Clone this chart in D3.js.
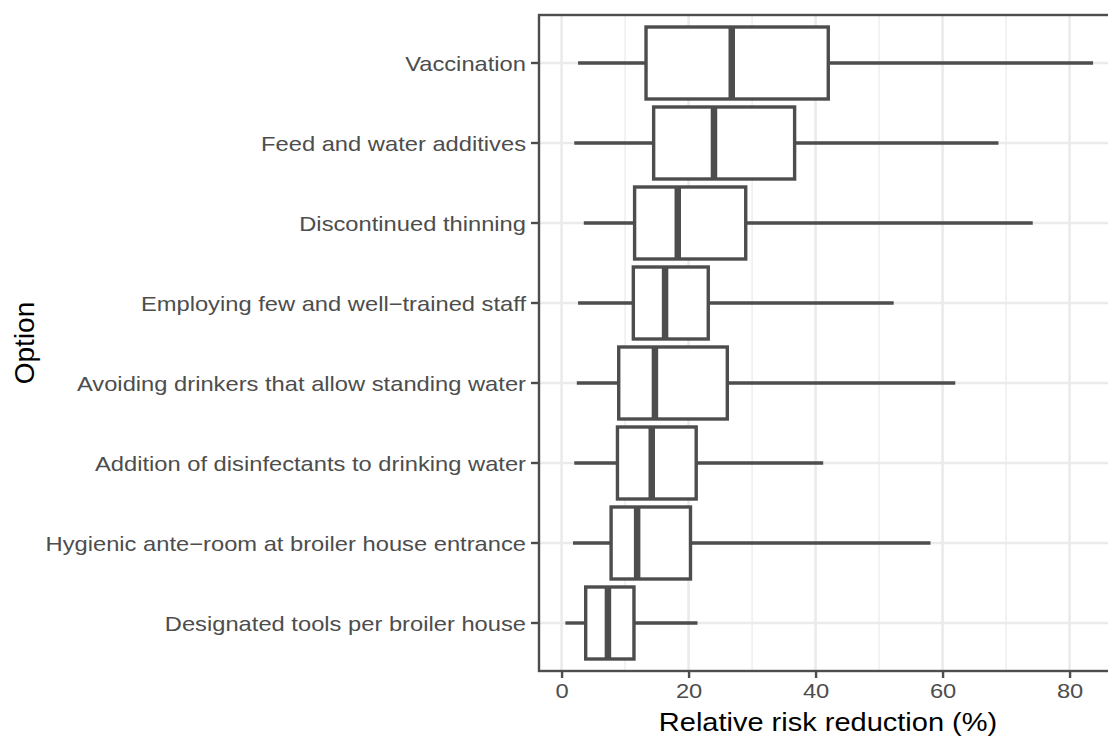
<!DOCTYPE html>
<html>
<head>
<meta charset="utf-8">
<script src="https://cdn.jsdelivr.net/npm/d3@7"></script>
<style>
  body { margin: 0; background: #fff; }
  text { font-family: "Liberation Sans", Arial, sans-serif; }
</style>
</head>
<body>
<svg id="chart" width="1108" height="738"></svg>
<script>
// options, top to bottom
const options = [
    'Vaccination',
    'Feed and water additives',
    'Discontinued thinning',
    'Employing few and well\u2212trained staff',
    'Avoiding drinkers that allow standing water',
    'Addition of disinfectants to drinking water',
    'Hygienic ante\u2212room at broiler house entrance',
    'Designated tools per broiler house'
];
// box stats (%), same order as options
const whiskerLow = [2.6, 2.0, 3.5, 2.6, 2.4, 2.0, 1.8, 0.6];
const q1 = [13.3, 14.5, 11.5, 11.3, 9.0, 8.8, 7.8, 3.8];
const median = [26.8, 24.0, 18.3, 16.3, 14.7, 14.2, 11.9, 7.3];
const q3 = [42.0, 36.7, 29.0, 23.1, 26.1, 21.2, 20.3, 11.4];
const whiskerHigh = [83.7, 68.8, 74.2, 52.3, 62.0, 41.2, 58.1, 21.4];
const xMajor = [0, 20, 40, 60, 80];
const xMinor = [10, 30, 50, 70];

const margins = { top: 15, left: 539, bottom: 67 };
const height = 738;
const pxPerUnit = 6.35;
const stretch = 1.13;   // text in the picture is a little wide
const ink = '#4d4d4d';
const gridColor = '#ebebeb';

const rows = options.map((name, i) => ({
    name, lo: whiskerLow[i], q1: q1[i], med: median[i], q3: q3[i], hi: whiskerHigh[i]
}));

const svg = d3.select('#chart');

// x scale with ggplot-ish 5% expansion
const dMin = d3.min(whiskerLow), dMax = d3.max(whiskerHigh);
const pad = (dMax - dMin) * 0.05;
const xDomain = [dMin - pad, dMax + pad];
const x = d3.scaleLinear()
    .domain(xDomain)
    .range([margins.left, margins.left + (xDomain[1] - xDomain[0]) * pxPerUnit]);

const panelBottom = height - margins.bottom;
// ggplot discrete: expand 0.6 per side
const y = d3.scalePoint()
    .domain(options)
    .range([margins.top, panelBottom])
    .padding(0.6);
const step = y.step();
const boxH = step * 0.9;

const panelRight = x.range()[1];

// grid
const grid = svg.append('g');
grid.selectAll('.minor').data(xMinor).enter().append('line')
    .attr('x1', d => x(d)).attr('x2', d => x(d))
    .attr('y1', margins.top).attr('y2', panelBottom)
    .attr('stroke', gridColor).attr('stroke-width', 1.2);
grid.selectAll('.major').data(xMajor).enter().append('line')
    .attr('x1', d => x(d)).attr('x2', d => x(d))
    .attr('y1', margins.top).attr('y2', panelBottom)
    .attr('stroke', gridColor).attr('stroke-width', 2.6);
grid.selectAll('.hmajor').data(options).enter().append('line')
    .attr('x1', margins.left).attr('x2', panelRight)
    .attr('y1', d => y(d)).attr('y2', d => y(d))
    .attr('stroke', gridColor).attr('stroke-width', 2.6);

// boxes
const box = svg.append('g').selectAll('g').data(rows).enter().append('g');
box.append('line')
    .attr('x1', d => x(d.lo)).attr('x2', d => x(d.q1))
    .attr('y1', d => y(d.name)).attr('y2', d => y(d.name))
    .attr('stroke', ink).attr('stroke-width', 3.4);
box.append('line')
    .attr('x1', d => x(d.q3)).attr('x2', d => x(d.hi))
    .attr('y1', d => y(d.name)).attr('y2', d => y(d.name))
    .attr('stroke', ink).attr('stroke-width', 3.4);
box.append('rect')
    .attr('x', d => x(d.q1)).attr('width', d => x(d.q3) - x(d.q1))
    .attr('y', d => y(d.name) - boxH / 2).attr('height', boxH)
    .attr('fill', '#fff').attr('stroke', ink).attr('stroke-width', 3.4);
box.append('line')
    .attr('x1', d => x(d.med)).attr('x2', d => x(d.med))
    .attr('y1', d => y(d.name) - boxH / 2).attr('y2', d => y(d.name) + boxH / 2)
    .attr('stroke', ink).attr('stroke-width', 6.5);

// panel border
svg.append('rect')
    .attr('x', margins.left).attr('y', margins.top)
    .attr('width', panelRight - margins.left).attr('height', panelBottom - margins.top)
    .attr('fill', 'none').attr('stroke', ink).attr('stroke-width', 2.4);

// y axis ticks + labels
const yAx = svg.append('g');
yAx.selectAll('line').data(options).enter().append('line')
    .attr('x1', margins.left - 8).attr('x2', margins.left)
    .attr('y1', d => y(d)).attr('y2', d => y(d))
    .attr('stroke', ink).attr('stroke-width', 2.4);
yAx.selectAll('text').data(options).enter().append('text')
    .attr('transform', d => `translate(${margins.left - 13}, ${y(d)}) scale(${stretch}, 1)`)
    .attr('dy', '0.36em').attr('text-anchor', 'end')
    .attr('font-size', 21).attr('fill', ink)
    .text(d => d);

// x axis
const xAxis = d3.axisBottom(x).tickValues(xMajor).tickSize(7).tickPadding(5);
const gx = svg.append('g')
    .attr('transform', `translate(0, ${panelBottom})`)
    .call(xAxis);
gx.select('.domain').remove();
gx.selectAll('line').attr('stroke', ink).attr('stroke-width', 2.4);
gx.selectAll('text').attr('font-size', 21).attr('fill', ink)
    .attr('transform', `scale(${stretch}, 1)`)
    .style('font-family', '"Liberation Sans", Arial, sans-serif');

// axis titles
svg.append('text')
    .attr('transform', `translate(828, 731) scale(1.16, 1)`)
    .attr('text-anchor', 'middle').attr('font-size', 25).attr('fill', '#000')
    .text('Relative risk reduction (%)');
svg.append('text')
    .attr('transform', `translate(34, ${(margins.top + panelBottom) / 2}) rotate(-90)`)
    .attr('text-anchor', 'middle').attr('font-size', 28).attr('fill', '#000')
    .text('Option');
</script>
</body>
</html>
